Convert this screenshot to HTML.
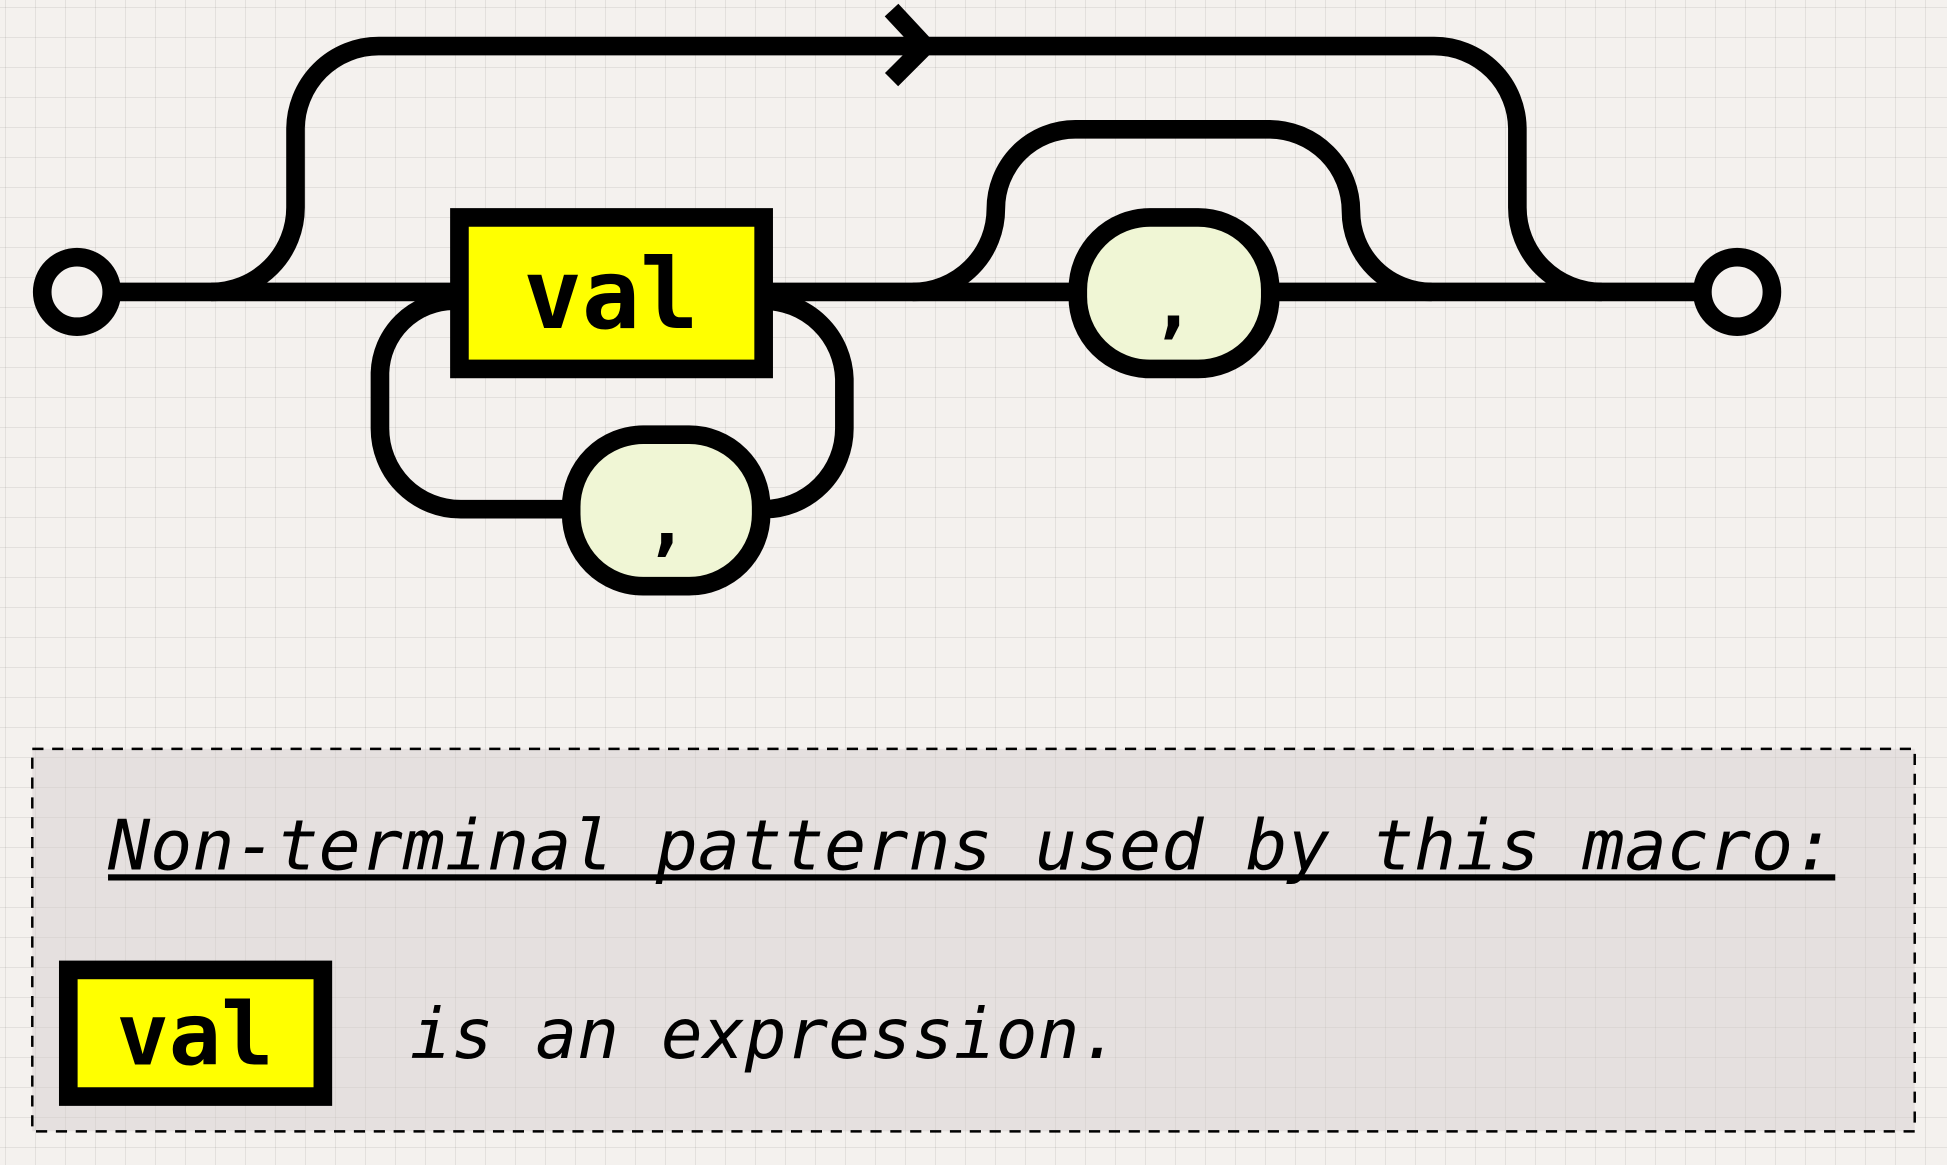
<!DOCTYPE html>
<html><head><style>
html,body{margin:0;padding:0}
body{width:1947px;height:1165px;overflow:hidden;background-color:#f4f1ee;
background-image:linear-gradient(to right,rgba(0,0,0,0.07) 1px,transparent 1px),linear-gradient(to bottom,rgba(0,0,0,0.07) 1px,transparent 1px);
background-size:30px 30px;background-position:5px 7px}
svg{position:absolute;left:0;top:0}
</style></head><body>
<svg width="1947" height="1165" viewBox="0 0 1568 938" xmlns="http://www.w3.org/2000/svg">
<g fill="none" stroke="#000" stroke-width="15">
<path d="M90 235 H1370"/>
<path d="M170 235 A68 68 0 0 0 238 167 V104 A67 67 0 0 1 305 37 H1155 A67 67 0 0 1 1222 104 V167 A68 68 0 0 0 1290 235"/>
<path d="M718 8 L745 37 L718 64"/>
<path d="M735 235 A67 67 0 0 0 802 168 A64 64 0 0 1 866 104 H1022 A66 66 0 0 1 1088 170 A65 65 0 0 0 1153 235"/>
<path d="M365 242 A60 60 0 0 0 306 300 V345 A65 65 0 0 0 371 410 H460"/>
<path d="M615 242 A65 65 0 0 1 680 305 V345 A65 65 0 0 1 615 410"/>
<circle cx="62" cy="235" r="28" fill="#f4f1ee"/>
<circle cx="1399" cy="235" r="28" fill="#f4f1ee"/>
<rect x="370" y="175" width="245" height="122" fill="#ffff00"/>
<rect x="868" y="175" width="155" height="122" rx="58" fill="#f0f6d5"/>
<rect x="460" y="350" width="153" height="122" rx="58" fill="#f0f6d5"/>
</g>
<g font-family="'DejaVu Sans Mono','Liberation Mono',monospace" fill="#000">
<text x="492" y="264" font-size="78" font-weight="bold" text-anchor="middle">val</text>
<text x="945" y="265" font-size="60" font-weight="bold" text-anchor="middle">,</text>
<text x="537" y="440" font-size="60" font-weight="bold" text-anchor="middle">,</text>
</g>
<rect x="26" y="603" width="1516" height="308" fill="rgba(210,205,205,0.45)" stroke="#000" stroke-width="2" stroke-dasharray="9 7"/>
<g font-family="'DejaVu Sans Mono','Liberation Mono',monospace" fill="#000">
<text x="87" y="700" font-size="56" font-style="italic" textLength="1391" lengthAdjust="spacingAndGlyphs">Non-terminal patterns used by this macro:</text>
<rect x="87" y="704" width="1391" height="5"/>
<rect x="55" y="781" width="205" height="102" fill="#ffff00" stroke="#000" stroke-width="15"/>
<text x="157" y="857" font-size="70" font-weight="bold" text-anchor="middle">val</text>
<text x="330" y="852" font-size="56" font-style="italic">is an expression.</text>
</g>
</svg>
</body></html>
